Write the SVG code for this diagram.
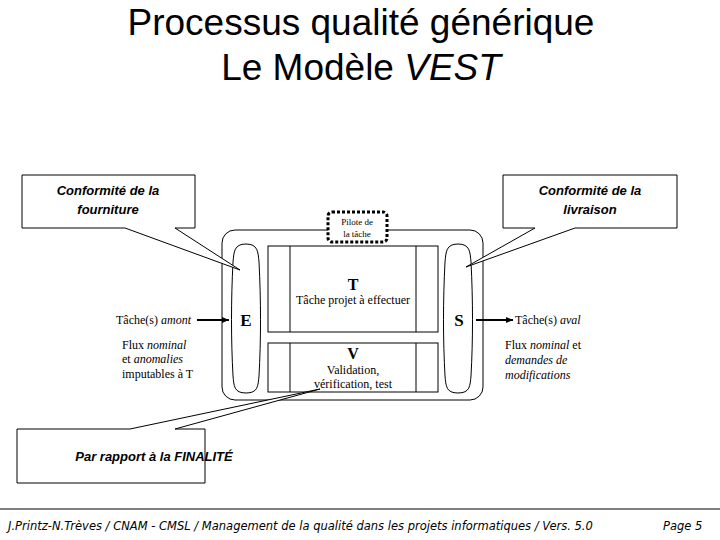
<svg xmlns="http://www.w3.org/2000/svg" width="720" height="540" viewBox="0 0 720 540">
<defs>
<style>
.ln{fill:none;stroke:#000;stroke-width:1}
.bx{fill:#fff;stroke:#000;stroke-width:1}
.s{font-family:"Liberation Sans",Arial,sans-serif}
.r{font-family:"Liberation Serif","Times New Roman",serif}
.cb{font-family:"Liberation Sans",Arial,sans-serif;font-size:13px;font-style:italic;font-weight:bold;text-anchor:middle}
</style>
<marker id="ah" markerWidth="8" markerHeight="8" refX="7" refY="4" orient="auto" markerUnits="userSpaceOnUse"><path d="M0,1 L7,4 L0,7 Z" fill="#000"/></marker>
</defs>
<rect width="720" height="540" fill="#fff"/>
<g id="title" class="s" font-size="37" text-anchor="middle">
<text x="361" y="35">Processus qualité générique</text>
<text x="361" y="80">Le Modèle <tspan font-style="italic">VEST</tspan></text>
</g>
<g id="process">
<rect class="bx" x="222" y="230" width="261" height="170" rx="13"/>
<path class="bx" d="M246,244 C234,244 234,252 233,262 C231,300 231,340 233,376 C234,386 234,393 246,393 C258,393 258,386 259,376 C261,340 261,300 259,262 C258,252 258,244 246,244 Z"/>
<path class="bx" d="M458,244 C446,244 446,252 445,262 C443,300 443,340 445,376 C446,386 446,393 458,393 C470,393 470,386 471,376 C473,340 473,300 471,262 C470,252 470,244 458,244 Z"/>
<rect class="bx" x="268" y="246" width="170" height="86"/>
<line class="ln" x1="290" y1="246" x2="290" y2="332"/><line class="ln" x1="416" y1="246" x2="416" y2="332"/>
<rect class="bx" x="268" y="343" width="170" height="49"/>
<line class="ln" x1="290" y1="343" x2="290" y2="392"/><line class="ln" x1="416" y1="343" x2="416" y2="392"/>
<text class="r" x="246" y="326" font-size="17" font-weight="bold" text-anchor="middle">E</text>
<text class="r" x="459" y="326" font-size="17" font-weight="bold" text-anchor="middle">S</text>
<text class="r" x="353" y="290" font-size="16" font-weight="bold" text-anchor="middle">T</text>
<text class="r" x="353" y="304" font-size="12" text-anchor="middle">Tâche projet à effectuer</text>
<text class="r" x="353" y="359" font-size="16" font-weight="bold" text-anchor="middle">V</text>
<text class="r" x="353" y="374" font-size="12" text-anchor="middle">Validation,</text>
<text class="r" x="353" y="388" font-size="12" text-anchor="middle">vérification, test</text>
</g>
<g id="pilote">
<rect x="328" y="212" width="59" height="30" rx="4" fill="#fff" stroke="#000" stroke-width="3" stroke-dasharray="3,2"/>
<text class="r" x="357" y="225" font-size="9" text-anchor="middle">Pilote de</text>
<text class="r" x="357" y="237" font-size="9" text-anchor="middle">la tâche</text>
</g>
<g id="connectors">
<line x1="197" y1="320" x2="229" y2="320" stroke="#000" stroke-width="2" marker-end="url(#ah)"/>
<line x1="476" y1="320" x2="513" y2="320" stroke="#000" stroke-width="2" marker-end="url(#ah)"/>
</g>
<g id="amont" class="r" font-size="12">
<text x="116" y="324">Tâche(s) <tspan font-style="italic">amont</tspan></text>
<text x="122" y="349">Flux <tspan font-style="italic">nominal</tspan></text>
<text x="122" y="363">et <tspan font-style="italic">anomalies</tspan></text>
<text x="122" y="378">imputables à T</text>
</g>
<g id="aval" class="r" font-size="12">
<text x="515" y="324">Tâche(s) <tspan font-style="italic">aval</tspan></text>
<text x="505" y="349">Flux <tspan font-style="italic">nominal</tspan> et</text>
<text x="505" y="364" font-style="italic">demandes de</text>
<text x="505" y="379" font-style="italic">modifications</text>
</g>
<g id="callout-fourniture">
<path class="bx" d="M22,175 H195 V228 H175 L240,270 L125,228 H22 Z"/>
<text class="cb" x="108" y="195">Conformité de la</text>
<text class="cb" x="108" y="214">fourniture</text>
</g>
<g id="callout-livraison">
<path class="bx" d="M503,175 H677 V228 H575 L466,267 L535,228 H503 Z"/>
<text class="cb" x="590" y="195">Conformité de la</text>
<text class="cb" x="590" y="214">livraison</text>
</g>
<g id="callout-finalite">
<path class="bx" d="M17,429 H130 L320,389 L175,429 H205 V483 H17 Z"/>
<text class="cb" x="154" y="461">Par rapport à la FINALITÉ</text>
</g>
<g id="footer">
<line x1="0" y1="509" x2="720" y2="509" stroke="#000" stroke-width="1.2"/>
<text x="8" y="530" font-family="'DejaVu Sans',sans-serif" font-size="11.5" font-style="italic">J.Printz-N.Trèves / CNAM - CMSL / Management de la qualité dans les projets informatiques / Vers. 5.0</text>
<text x="663" y="530" font-family="'DejaVu Sans',sans-serif" font-size="11.5" font-style="italic">Page 5</text>
</g>
</svg>
